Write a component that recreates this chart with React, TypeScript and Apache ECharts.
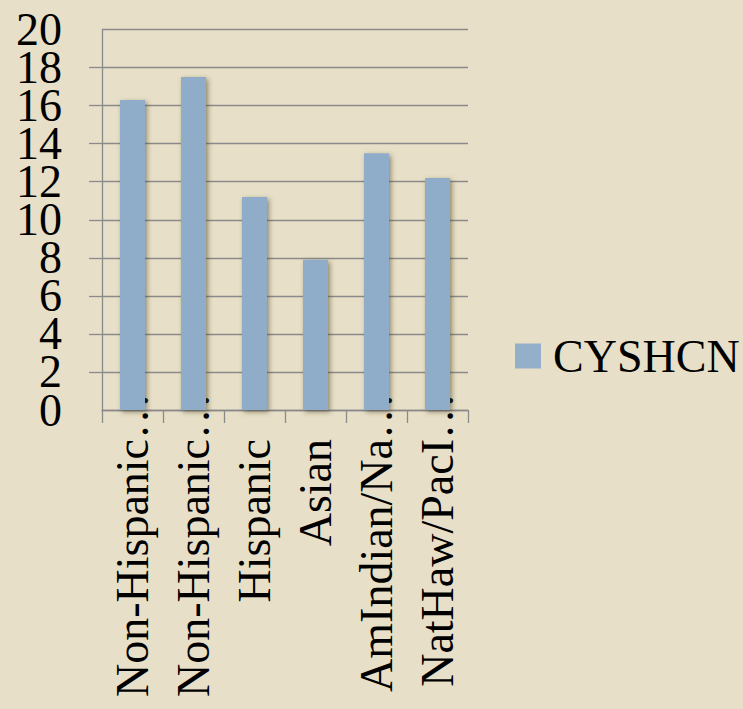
import React, { useEffect, useRef } from "react";
import * as echarts from "echarts";

// Race/ethnicity groups as they appear on the category axis
const categories = [
  "Non-Hispanic…",
  "Non-Hispanic…",
  "Hispanic",
  "Asian",
  "AmIndian/Na…",
  "NatHaw/PacI…",
];

// Prevalence (%) per group
const cyshcn = [16.3, 17.5, 11.2, 7.9, 13.5, 12.2];
const seriesName = "CYSHCN";

const yTicks = { min: 0, max: 20, interval: 2 };

const FONT = '"Liberation Serif", "Times New Roman", serif';
const AXIS_GRAY = "#8a8a8a";
const BAR_BLUE = "#8FADC8";
const BG = "#E7DFC7";

const yLabelBase = {
  color: "#000",
  fontFamily: FONT,
  fontSize: 46,
  margin: 40,
};

export default function App() {
  const ref = useRef<HTMLDivElement>(null);

  useEffect(() => {
    document.body.style.margin = "0";
    const chart = echarts.init(ref.current!, undefined, { renderer: "svg" });

    const labelFormatter = (v: string) =>
      v.endsWith("…")
        ? `{t|${v.slice(0, -1)}}{e|…}`
        : `{t|${v}}{g| }`;

    chart.setOption({
      animation: false,
      backgroundColor: BG,
      textStyle: { fontFamily: FONT },
      grid: { left: 102, right: 275, top: 29.5, bottom: 299 },
      legend: {
        data: [seriesName],
        left: 515,
        top: 333,
        padding: 0,
        icon: "rect",
        itemWidth: 26,
        itemHeight: 25,
        itemStyle: { shadowBlur: 0, shadowColor: "transparent", color: "#93AFCA" },
        textStyle: {
          fontFamily: FONT,
          fontSize: 46,
          color: "#000",
          padding: [0, 0, 0, 7],
        },
      },
      xAxis: {
        type: "category",
        data: categories,
        axisLine: { lineStyle: { color: AXIS_GRAY, width: 1.3 } },
        axisTick: { show: true, length: 13, lineStyle: { color: AXIS_GRAY, width: 1.3 } },
        axisLabel: {
          interval: 0,
          rotate: 90,
          margin: -17,
          color: "#000",
          fontFamily: FONT,
          fontSize: 46,
          formatter: labelFormatter,
          rich: {
            t: { fontFamily: FONT, fontSize: 46, color: "#000" },
            e: { fontFamily: FONT, fontSize: 46, color: "#000", width: 46 },
            g: { fontFamily: FONT, fontSize: 46, width: 46 },
          },
        },
      },
      yAxis: [
        {
          // main value axis: line, ticks, grid and the inner tick labels
          type: "value",
          position: "left",
          min: yTicks.min,
          max: yTicks.max,
          interval: yTicks.interval,
          axisLine: { show: true, lineStyle: { color: AXIS_GRAY, width: 1.3 } },
          axisTick: { show: true, length: 13, lineStyle: { color: AXIS_GRAY, width: 1.3 } },
          splitLine: { show: true, lineStyle: { color: AXIS_GRAY, width: 1.3 } },
          axisLabel: { ...yLabelBase, showMinLabel: false, showMaxLabel: false },
        },
        {
          // companion axis carrying only the end labels (0 and 20)
          type: "value",
          position: "left",
          offset: 0,
          min: yTicks.min,
          max: yTicks.max,
          interval: yTicks.interval,
          axisLine: { show: false },
          axisTick: { show: false },
          splitLine: { show: false },
          axisLabel: {
            ...yLabelBase,
            showMinLabel: true,
            showMaxLabel: true,
            formatter: (v: number) =>
              v === yTicks.min || v === yTicks.max ? String(v) : "",
          },
        },
      ],
      series: [
        {
          name: seriesName,
          type: "bar",
          yAxisIndex: 0,
          data: cyshcn,
          barWidth: 25,
          itemStyle: {
            color: BAR_BLUE,
            shadowBlur: 5,
            shadowColor: "rgba(70, 60, 40, 0.55)",
            shadowOffsetX: 2,
            shadowOffsetY: 2,
          },
        },
      ],
    });

    return () => chart.dispose();
  }, []);

  return <div ref={ref} style={{ width: 743, height: 709 }} />;
}
